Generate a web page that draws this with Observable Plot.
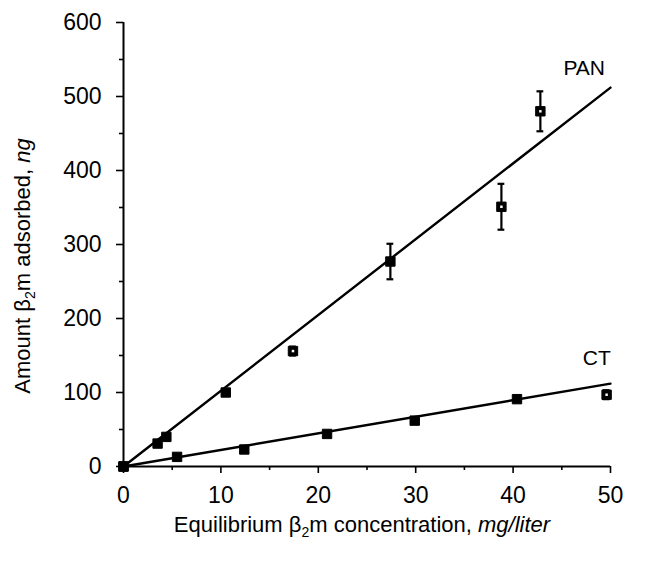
<!DOCTYPE html>
<html><head><meta charset="utf-8">
<script src="https://cdn.jsdelivr.net/npm/d3@7"></script>
<script src="https://cdn.jsdelivr.net/npm/@observablehq/plot@0.6"></script>
<style>body{margin:0;background:#fff}svg{font-family:"Liberation Sans",Arial,sans-serif}</style>
</head><body><div id="chart"></div>
<script>
// PAN data
const panX = [0, 3.5, 4.4, 10.5, 17.4, 27.4, 38.8, 42.8];
const panY = [0, 31, 40, 100, 156, 277, 351, 480];
const panErr = [0, 0, 0, 0, 6, 24, 31, 27];
const panHollow = [false, false, false, false, true, false, true, true];
// CT data
const ctX = [0, 5.5, 12.4, 20.9, 29.9, 40.4, 49.6];
const ctY = [0, 13, 23, 44, 62, 91, 97];
const ctErr = [0, 0, 0, 0, 0, 0, 6];
const ctHollow = [false, false, false, false, false, false, true];
// fitted lines (endpoints)
const panFitX = [0, 50], panFitY = [0, 512];
const ctFitX = [0, 50], ctFitY = [0, 112];
const xTicks = [0, 10, 20, 30, 40, 50];
const yTicks = [0, 100, 200, 300, 400, 500, 600];
const xMinor = [5, 15, 25, 35, 45];
const yMinor = [50, 150, 250, 350, 450, 550];
const seriesLabels = [{name: "PAN", x: 47.3, y: 538}, {name: "CT", x: 48.6, y: 146}];

const pts = [
  ...panX.map((x, i) => ({x, y: panY[i], e: panErr[i], hollow: panHollow[i]})),
  ...ctX.map((x, i) => ({x, y: ctY[i], e: ctErr[i], hollow: ctHollow[i]}))
];
const errPts = pts.filter(d => d.e > 0);
const fits = [
  ...panFitX.map((x, i) => ({s: "PAN", x, y: panFitY[i]})),
  ...ctFitX.map((x, i) => ({s: "CT", x, y: ctFitY[i]}))
];

const plot = Plot.plot({
  width: 648, height: 562,
  marginLeft: 123, marginRight: 38, marginTop: 22, marginBottom: 96,
  style: {fontFamily: "Liberation Sans, Arial, sans-serif", color: "#000", background: "#fff"},
  x: {domain: [0, 50], label: null},
  y: {domain: [0, 600], label: null},
  marks: [
    Plot.axisX({ticks: xMinor, tickSize: 4, text: null, strokeWidth: 1.6}),
    Plot.axisX({ticks: xTicks, tickSize: 7, tickPadding: 13, strokeWidth: 1.6}),
    Plot.axisY({ticks: yMinor, tickSize: 4, text: null, strokeWidth: 1.6}),
    Plot.axisY({ticks: yTicks, tickSize: 7, tickPadding: 15, strokeWidth: 1.6}),
    Plot.ruleX([0], {strokeWidth: 2}),
    Plot.ruleY([0], {strokeWidth: 2}),
    Plot.line(fits, {x: "x", y: "y", z: "s", stroke: "#000", strokeWidth: 2.4}),
    Plot.ruleX(errPts, {x: "x", y1: d => d.y - d.e, y2: d => d.y + d.e, strokeWidth: 2.2}),
    Plot.ruleY(errPts, {y: d => d.y - d.e, x1: d => d.x - 0.35, x2: d => d.x + 0.35, strokeWidth: 2.2}),
    Plot.ruleY(errPts, {y: d => d.y + d.e, x1: d => d.x - 0.35, x2: d => d.x + 0.35, strokeWidth: 2.2}),
    Plot.dot(pts, {x: "x", y: "y", symbol: "square", r: 5.3, fill: "#000", stroke: "#000", strokeWidth: 1}),
    Plot.dot(pts.filter(d => d.hollow), {x: "x", y: "y", symbol: "square", r: 1.4, fill: "#fff"}),
    Plot.text(seriesLabels, {x: "x", y: "y", text: "name", fontSize: 20, textAnchor: "middle", fill: "#000"})
  ]
});

const svg = d3.select(plot);
svg.selectAll('g[aria-label$="tick label"]').style("font-size", "23px")
  .selectAll("text").style("font-size", "23px");
svg.selectAll('g[aria-label="text"] text').style("font-size", "21px");
// y axis title
const yt = svg.append("text")
  .attr("transform", "translate(30,266) rotate(-90)")
  .attr("text-anchor", "middle")
  .style("font-size", "22px").attr("fill", "#000");
yt.append("tspan").text("Amount β");
yt.append("tspan").style("font-size", "14px").attr("dy", 5).text("2");
yt.append("tspan").attr("dy", -5).text("m adsorbed, ");
yt.append("tspan").attr("font-style", "italic").text("ng");
// x axis title
const xt = svg.append("text")
  .attr("x", 362).attr("y", 532)
  .attr("text-anchor", "middle")
  .style("font-size", "22px").attr("fill", "#000");
xt.append("tspan").text("Equilibrium β");
xt.append("tspan").style("font-size", "14px").attr("dy", 5).text("2");
xt.append("tspan").attr("dy", -5).text("m concentration, ");
xt.append("tspan").attr("font-style", "italic").text("mg/liter");

document.getElementById("chart").appendChild(plot);
</script></body></html>
